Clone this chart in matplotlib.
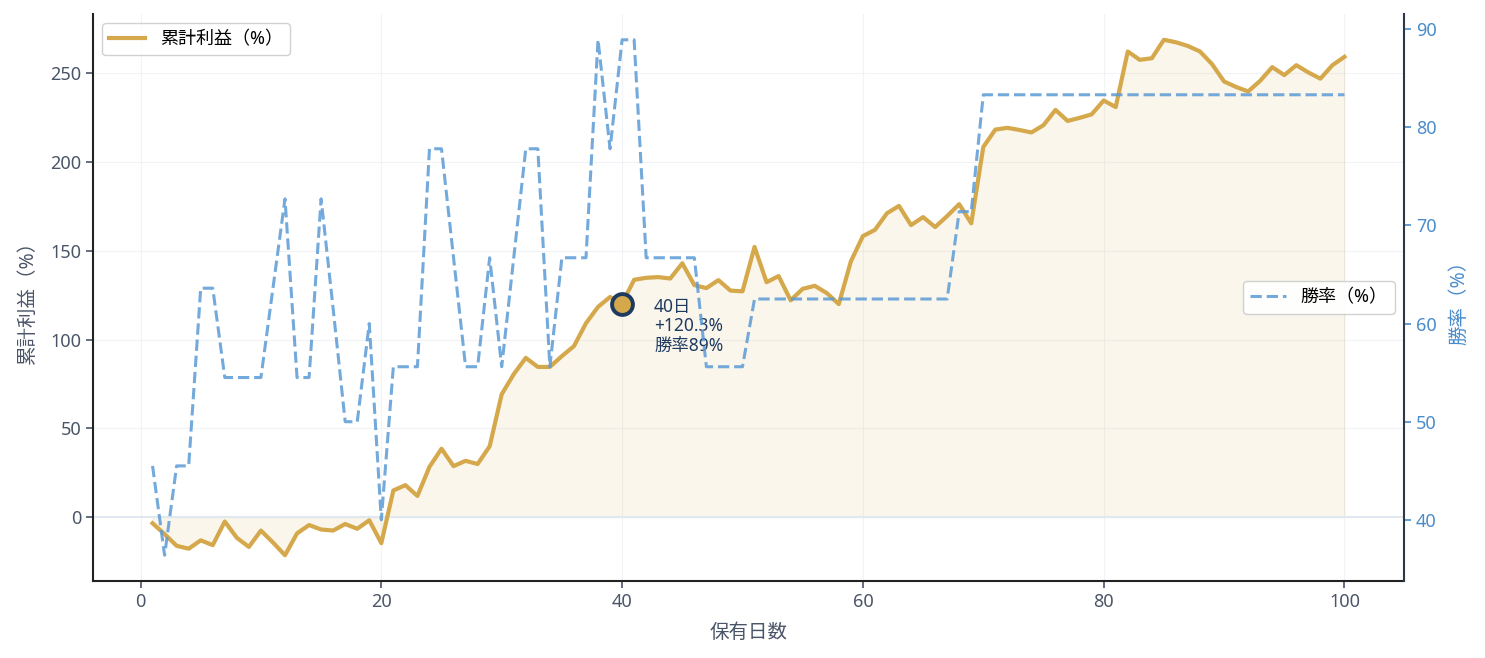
import numpy as np
import matplotlib
matplotlib.use("Agg")
import matplotlib.pyplot as plt

plt.rcParams['font.family'] = ['Noto Sans', 'Noto Sans CJK JP', 'DejaVu Sans']

# holding days 1..100
days = np.arange(1, 101)

# cumulative profit (%)
profit = [
    -3.5, -9.6, -16.2, -17.8, -13.1, -15.8, -2.5, -11.7, -16.8, -7.6,
    -14.3, -21.5, -9.2, -4.5, -7.0, -7.6, -3.9, -6.6, -1.8, -14.7,
    15.0, 18.0, 11.9, 28.3, 38.5, 28.7, 31.7, 29.9, 39.9, 69.2,
    80.5, 89.7, 84.6, 84.6, 90.7, 96.3, 109.2, 118.4, 124.0, 120.3,
    133.7, 134.8, 135.2, 134.4, 143.0, 130.7, 129.0, 133.5, 127.6, 127.2,
    152.2, 132.3, 135.8, 122.1, 128.6, 130.3, 126.2, 120.0, 144.0, 158.3,
    161.8, 171.2, 175.3, 164.5, 169.0, 163.4, 169.6, 176.3, 165.5, 208.5,
    218.3, 219.3, 218.1, 216.7, 220.8, 229.4, 223.2, 224.9, 226.9, 234.7,
    231.0, 262.3, 257.6, 258.5, 268.9, 267.5, 265.4, 262.3, 255.2, 245.4,
    242.3, 239.8, 245.8, 253.5, 249.0, 254.6, 250.5, 247.0, 254.6, 259.3,
]

# win rate (%)
win_rate = [
    45.5, 36.4, 45.5, 45.5, 63.6, 63.6, 54.5, 54.5, 54.5, 54.5,
    63.6, 72.7, 54.5, 54.5, 72.7, 61.5, 50.0, 50.0, 60.0, 40.0,
    55.6, 55.6, 55.6, 77.8, 77.8, 66.7, 55.6, 55.6, 66.7, 55.6,
    66.7, 77.8, 77.8, 55.6, 66.7, 66.7, 66.7, 88.9, 77.8, 88.9,
    88.9, 66.7, 66.7, 66.7, 66.7, 66.7, 55.6, 55.6, 55.6, 55.6,
    62.5, 62.5, 62.5, 62.5, 62.5, 62.5, 62.5, 62.5, 62.5, 62.5,
    62.5, 62.5, 62.5, 62.5, 62.5, 62.5, 62.5, 71.4, 71.4, 83.3,
    83.3, 83.3, 83.3, 83.3, 83.3, 83.3, 83.3, 83.3, 83.3, 83.3,
    83.3, 83.3, 83.3, 83.3, 83.3, 83.3, 83.3, 83.3, 83.3, 83.3,
    83.3, 83.3, 83.3, 83.3, 83.3, 83.3, 83.3, 83.3, 83.3, 83.3,
]

highlight_day = 40
highlight_profit = 120.3
highlight_label = '40日\n+120.3%\n勝率89%'

GOLD = '#D4A84B'
BLUE = '#5B9BD5'
BLUE_TXT = '#4A8CCB'
NAVY = '#1E3A5F'
SLATE = '#4A5568'

fig, ax = plt.subplots(figsize=(14.85, 6.58), dpi=100)
fig.subplots_adjust(left=0.0626, right=0.9455, top=0.9787, bottom=0.117)

ax.grid(True, color='#EEF1F5', linewidth=0.8, alpha=0.8)
ax.set_axisbelow(True)
ax.fill_between(days, profit, 0, color=GOLD, alpha=0.1)
ax.axhline(0, color='#E2E8F0', linewidth=1.5, zorder=1)
ax.plot(days, profit, color=GOLD, linewidth=3.0, label='累計利益（%）', zorder=3)
ax.plot(highlight_day, highlight_profit, 'o', markersize=15,
        markerfacecolor=GOLD, markeredgecolor=NAVY, markeredgewidth=2.8, zorder=5)
ax.annotate(highlight_label, xy=(highlight_day, highlight_profit),
            xytext=(23, 4), textcoords='offset points',
            ha='left', va='top', fontsize=12.5, color=NAVY, linespacing=1.1)

ax.set_xlabel('保有日数', fontsize=14, color=SLATE, labelpad=9)
ax.set_ylabel('累計利益（%）', fontsize=14, color=SLATE, labelpad=9)
ax.tick_params(colors=SLATE, labelsize=13, length=5, width=1.2)
for side in ['left', 'bottom']:
    ax.spines[side].set_color('#222222')
    ax.spines[side].set_linewidth(1.5)
ax.spines['top'].set_visible(False)
ax.spines['right'].set_visible(False)
ax.legend(loc='upper left', fontsize=13, edgecolor='#CCCCCC', framealpha=0.9)

ax2 = ax.twinx()
ax2.plot(days, win_rate, color=BLUE, linewidth=2.2, linestyle='--',
         alpha=0.85, label='勝率（%）')
ax2.set_ylabel('勝率（%）', fontsize=14, color=BLUE_TXT, labelpad=9)
ax2.tick_params(axis='y', colors=BLUE_TXT, labelsize=13, length=5, width=1.2)
ax2.spines['top'].set_visible(False)
ax2.spines['left'].set_visible(False)
ax2.spines['bottom'].set_visible(False)
ax2.spines['right'].set_color('#2D3748')
ax2.spines['right'].set_linewidth(1.5)
ax2.legend(loc='center right', fontsize=13, edgecolor='#CCCCCC', framealpha=0.9)

fig.savefig('out.png', dpi=100)
